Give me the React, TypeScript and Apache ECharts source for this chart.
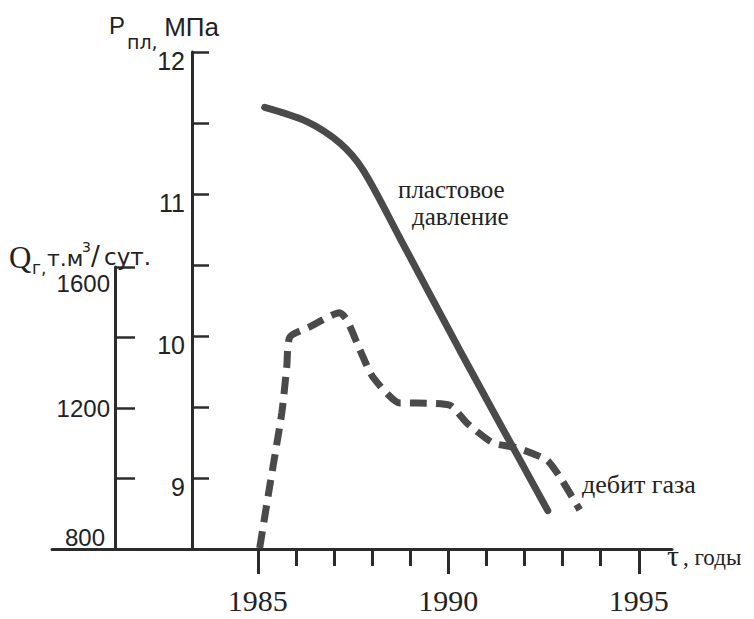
import React, { useEffect, useRef } from "react";
import * as echarts from "echarts";

// ---- data ----
const pressureYears = [1985.18, 1986.29, 1987.15, 1987.76, 1988.73, 1990.3, 1992.61];
const pressureValues = [11.61, 11.51, 11.36, 11.17, 10.69, 9.9, 8.77];

const gasYears = [1985.05, 1985.31, 1985.63, 1985.76, 1985.84, 1986.36, 1987.15, 1987.34, 1987.68, 1988.02, 1988.73, 1989.17, 1990.04, 1990.49, 1991.17, 1991.8, 1992.59, 1992.93, 1993.45];
const gasValues = [803, 976, 1186, 1316, 1401, 1430, 1470, 1450, 1365, 1288, 1214, 1214, 1208, 1157, 1101, 1087, 1052, 1004, 911];

const yearTicks = [1985, 1986, 1987, 1988, 1989, 1990, 1991, 1992, 1993, 1994, 1995];
const yearLabels = [1985, 1990, 1995];
const pressureLabels = [9, 10, 11, 12];
const gasLabels = [800, 1200, 1600];

const X_MIN = 1979.6;
const X_MAX = 1995.87;

const INK = "#2b2b2b";
const LINE = "#4a4a4a";
const SERIF = "'Liberation Serif', 'Times New Roman', serif";
const SANS = "'Liberation Sans', Arial, sans-serif";
const WIDE = "'DejaVu Sans', sans-serif";

const txt = (text: string, x: number, y: number, fontSize: number, font = SANS, align = "left") => ({
  type: "text",
  x,
  y,
  z: 10,
  style: { text, x: 0, y: 0, fontFamily: font, fontSize, fill: "#222", align, verticalAlign: "middle" },
});

export default function App() {
  const ref = useRef<HTMLDivElement>(null);

  useEffect(() => {
    if (!ref.current) return;
    const chart = echarts.init(ref.current, null, { renderer: "svg" });

    const axisLine = { show: true, lineStyle: { color: INK, width: 3 } };

    const option: any = {
      animation: false,
      backgroundColor: "#ffffff",
      grid: [
        { left: 52, right: 82, top: 52, bottom: 70 },
        { left: 52, right: 82, top: 267, bottom: 70 },
      ],
      xAxis: [
        {
          type: "value",
          gridIndex: 0,
          position: "bottom",
          min: X_MIN,
          max: X_MAX,
          axisLine,
          axisTick: { show: true, customValues: yearTicks, length: 17, lineStyle: { color: INK, width: 3 } },
          axisLabel: { show: false },
          splitLine: { show: false },
        },
        {
          type: "value",
          gridIndex: 1,
          position: "bottom",
          min: X_MIN,
          max: X_MAX,
          axisLine: { show: false },
          axisTick: { show: true, customValues: yearLabels, length: 25, lineStyle: { color: INK, width: 3 } },
          axisLabel: {
            show: true,
            customValues: yearLabels,
            margin: 36,
            fontFamily: SERIF,
            fontSize: 30,
            color: "#222",
            formatter: (v: number) => String(v),
          },
          splitLine: { show: false },
        },
      ],
      yAxis: [
        {
          type: "value",
          gridIndex: 0,
          position: "left",
          offset: -140,
          min: 8.5,
          max: 12,
          interval: 0.5,
          axisLine,
          axisTick: { show: true, inside: true, length: 17, lineStyle: { color: INK, width: 2.5 } },
          axisLabel: {
            margin: 7,
            formatter: (v: number) => {
              const r = Math.round(v);
              return Math.abs(v - r) < 1e-6 && pressureLabels.includes(r) ? "{p|" + r + "}" : "";
            },
            rich: {
              p: { fontFamily: SANS, fontSize: 25, color: "#222", padding: [18, 0, 0, 0] },
            },
          },
          splitLine: { show: false },
        },
        {
          type: "value",
          gridIndex: 1,
          position: "left",
          offset: -63,
          min: 800,
          max: 1600,
          interval: 200,
          axisLine,
          axisTick: { show: true, inside: true, length: 20, lineStyle: { color: INK, width: 2.5 } },
          axisLabel: {
            margin: 5,
            formatter: (v: number) => {
              const r = Math.round(v);
              if (!gasLabels.includes(r)) return "";
              if (r === gasLabels[0]) return "{lo|" + r + "}";
              if (r === gasLabels[gasLabels.length - 1]) return "{hi|" + r + "}";
              return "{mid|" + r + "}";
            },
            rich: {
              lo: { fontFamily: SANS, fontSize: 24, color: "#222", padding: [0, 5, 24, 0] },
              mid: { fontFamily: SANS, fontSize: 24, color: "#222" },
              hi: { fontFamily: SANS, fontSize: 24, color: "#222", padding: [32, 0, 0, 0] },
            },
          },
          splitLine: { show: false },
        },
      ],
      series: [
        {
          name: "пластовое давление",
          type: "line",
          xAxisIndex: 0,
          yAxisIndex: 0,
          data: pressureYears.map((x, i) => [x, pressureValues[i]]),
          smooth: 0.3,
          symbol: "none",
          lineStyle: { color: LINE, width: 7, cap: "round" },
          z: 3,
        },
        {
          name: "дебит газа",
          type: "line",
          xAxisIndex: 1,
          yAxisIndex: 1,
          data: gasYears.map((x, i) => [x, gasValues[i]]),
          smooth: 0.2,
          symbol: "none",
          clip: false,
          lineStyle: { color: LINE, width: 7, type: [17, 9], cap: "butt" },
          z: 3,
        },
      ],
      graphic: [
        // pressure axis title
        txt("P", 109, 25, 24),
        txt("пл,", 127, 42, 19, WIDE),
        txt("МПа", 219, 27, 26, SANS, "right"),
        // gas axis title
        txt("Q", 9, 257, 31, SERIF),
        txt("г,", 32, 268, 17, WIDE),
        txt("т.м", 47, 258, 22, WIDE),
        txt("3", 82, 247, 14, WIDE),
        txt("/", 91, 256, 26, WIDE),
        txt("сут.", 151, 257, 23, WIDE, "right"),
        // annotations
        txt("пластовое", 398, 189, 25, SERIF),
        txt("давление", 412, 216, 25, SERIF),
        txt("дебит газа", 582, 484, 26, SERIF),
        txt("τ", 667, 555, 30, SERIF),
        txt(", годы", 683, 557, 23, SERIF),
      ],
    };

    chart.setOption(option);
    return () => chart.dispose();
  }, []);

  return (
    <div
      ref={ref}
      style={{ position: "fixed", left: 0, top: 0, width: 754, height: 619, background: "#fff" }}
    />
  );
}
